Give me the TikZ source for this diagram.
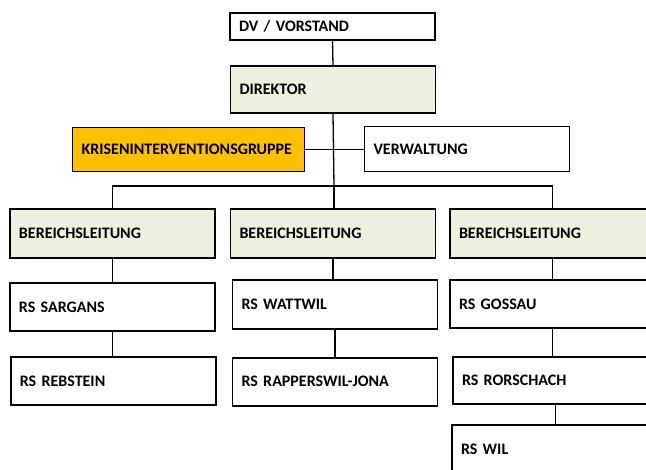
\documentclass[tikz,border=0pt]{standalone}
\usepackage{fontspec}
\setmainfont{Carlito}
\definecolor{paleolive}{HTML}{EBF1DE}
\definecolor{krisengold}{HTML}{FFC000}
\begin{document}
\begin{tikzpicture}[x=1pt,y=-1pt,
			box/.style = {shape=rectangle, draw, line width=1.6pt, fill=white,
				text width=187pt, inner xsep=9pt, inner ysep=0pt, align=left,
				font=\fontsize{16}{18}\selectfont\bfseries},
			leitung/.style = {box, fill=paleolive},
			link/.style = {line width=1.3pt}]
			\clip (0,0) rectangle (646,470);
			
			\node[box, minimum height=27pt] (dv) at (332.5,26.5) {DV / VORSTAND};
			\node[leitung, minimum height=47pt] (dir) at (333,89.5) {DIREKTOR};
			\node[box, fill=krisengold, text width=214pt, minimum height=44pt] (krise) at (188.6,149.6) {KRISENINTERVENTIONSGRUPPE};
			\node[box, minimum height=45pt] (verw) at (467,149.2) {VERWALTUNG};
			
			% Bereiche
			\node[leitung, minimum height=49pt] (bl1) at (112.5,233.5) {BEREICHSLEITUNG};
			\node[leitung, minimum height=49pt] (bl2) at (333,233.5) {BEREICHSLEITUNG};
			\node[leitung, minimum height=49pt] (bl3) at (552.5,233.5) {BEREICHSLEITUNG};
			
			% Schulen
			\node[box, minimum height=48pt] (sargans) at (112.5,307) {RS SARGANS};
			\node[box, minimum height=48pt] (rebstein) at (113.3,381) {RS REBSTEIN};
			\node[box, minimum height=49pt] (wattwil) at (335,304.5) {RS WATTWIL};
			\node[box, minimum height=48pt] (rapperswil) at (335,381.8) {RS RAPPERSWIL-JONA};
			\node[box, minimum height=48pt] (gossau) at (552.5,304) {RS GOSSAU};
			\node[box, minimum height=47pt] (rorschach) at (555.5,380.5) {RS RORSCHACH};
			\node[box, minimum height=48pt] (wil) at (554.5,449) {RS WIL};
			
			\coordinate (bus) at (334,186);
			\draw[link] (dv.south) -- (dir.north);
			\draw[link] (dir.south) -- (bus);
			\draw[link] (krise.east) -- (krise.east -| verw.west);
			\draw[link] (bl1.north) |- (bus) -| (bl3.north);
			\draw[link] (bus) -- (bus |- bl2.north);
			\draw[link] (bl1.south) -- (bl1.south |- sargans.north);
			\draw[link] (sargans.south) -- (sargans.south |- rebstein.north);
			\draw[link] (bl2.south) -- (bl2.south |- wattwil.north);
			\draw[link] (wattwil.south) -- (wattwil.south |- rapperswil.north);
			\draw[link] (bl3.south) -- (bl3.south |- gossau.north);
			\draw[link] (gossau.south) -- (gossau.south |- rorschach.north);
			\draw[link] (rorschach.south) -- (rorschach.south |- wil.north);
			\end{tikzpicture}
\end{document}
